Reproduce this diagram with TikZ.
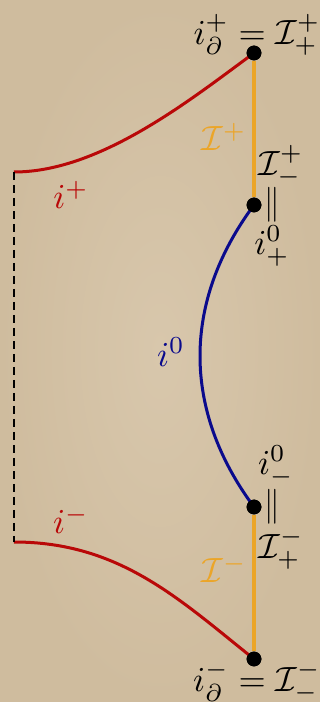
\documentclass[tikz,border=0pt]{standalone}
\definecolor{parch}{RGB}{216,199,172}
\definecolor{parchdark}{RGB}{207,188,158}
\definecolor{cred}{RGB}{185,8,8}
\definecolor{cblue}{RGB}{10,10,140}
\definecolor{corange}{RGB}{235,165,40}
\newcommand{\mylbl}[1]{\scalebox{1.75}{#1}}
\newcommand{\vereq}{\scalebox{1.55}[1.75]{$\|$}}
\begin{document}
\begin{tikzpicture}[x=0.5pt,y=0.5pt,
  dot/.style={circle,fill=black,inner sep=0pt,minimum size=7.4pt},
  lbl/.style={inner sep=0pt},
  redline/.style={draw=cred,line width=1.5pt},
  blueline/.style={draw=cblue,line width=1.5pt},
  orangeline/.style={draw=corange,line width=1.6pt},
  dashline/.style={draw=black,line width=1.2pt,dash pattern=on 4pt off 2.5pt}]
\useasboundingbox (0,0) rectangle (320,702);
\shade[inner color=parch,outer color=parchdark] (0,0) rectangle (320,702);
% points
\node[dot] (top) at (254,649) {};
\node[dot] (up) at (254,497) {};
\node[dot] (lo) at (254,195) {};
\node[dot] (bot) at (254,43) {};
\coordinate (lt) at (14,530);
\coordinate (lb) at (14,160);
% lines
\draw[orangeline] (top) -- (up);
\draw[orangeline] (lo) -- (bot);
\draw[blueline] (up.center) .. controls (182,400) and (182,292) .. (lo.center);
\draw[redline] (lt) .. controls (100,530) and (190,602) .. (top.center);
\draw[redline] (lb) .. controls (120,160) and (180,102) .. (bot.center);
\draw[dashline] (lt) -- (lb);
\node[dot] at (top) {};
\node[dot] at (bot) {};
\node[dot] at (up) {};
\node[dot] at (lo) {};
% labels
\node[lbl] (ltop) at (257,667) {\mylbl{$i_\partial^+ = \mathcal{I}_+^+$}};
\node[lbl,text=corange] (lIp) at (224,565) {\mylbl{$\mathcal{I}^+$}};
\node[lbl] (lImp) at (281,536) {\mylbl{$\mathcal{I}_-^+$}};
\node[lbl] (eq1) at (272,497) {\vereq};
\node[lbl] (li0p) at (272,456) {\mylbl{$i_+^0$}};
\node[lbl,text=cblue] (li0) at (171,350) {\mylbl{$i^0$}};
\node[lbl] (li0m) at (276,236) {\mylbl{$i_-^0$}};
\node[lbl] (eq2) at (272,195) {\vereq};
\node[lbl] (lIpm) at (281,153) {\mylbl{$\mathcal{I}_+^-$}};
\node[lbl,text=corange] (lIm) at (224,133) {\mylbl{$\mathcal{I}^-$}};
\node[lbl] (lbot) at (257,20) {\mylbl{$i_\partial^- = \mathcal{I}_-^-$}};
\node[lbl,text=cred] (lip) at (71,507) {\mylbl{$i^+$}};
\node[lbl,text=cred] (lim) at (71,182) {\mylbl{$i^-$}};
\end{tikzpicture}
\end{document}
